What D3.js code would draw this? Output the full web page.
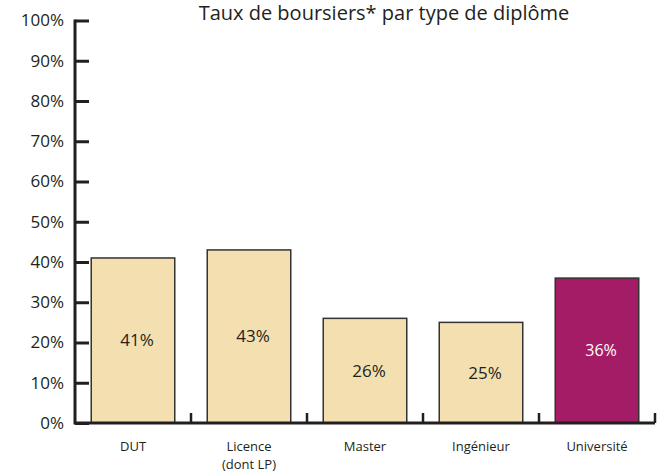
<!DOCTYPE html>
<html>
<head>
<meta charset="utf-8">
<script src="https://cdn.jsdelivr.net/npm/d3@7"></script>
<style>
  body { margin: 0; background: #fff; }
  text { font-family: "Open Sans", sans-serif; fill: #231f20; }
</style>
</head>
<body>
<div id="chart"></div>
<script>
let categories = ["DUT", "Licence", "Master", "Ingénieur", "Université"];
let subLabels = ["", "(dont LP)", "", "", ""];
let values = [41, 43, 26, 25, 36];
let yTicks = [0, 10, 20, 30, 40, 50, 60, 70, 80, 90, 100];
let title = "Taux de boursiers* par type de diplôme";

let width = 664, height = 473;
let x0 = 75, x1 = 655, yBottom = 423, yTop = 20.5;

let svg = d3.select("#chart").append("svg")
    .attr("width", width)
    .attr("height", height);

let xScale = d3.scaleBand()
    .domain(categories)
    .range([x0, x1])
    .paddingInner(0.28)
    .paddingOuter(0.14);

let yScale = d3.scaleLinear()
    .domain([0, 100])
    .range([yBottom, yTop]);

// bars
svg.selectAll(".bar")
    .data(values)
    .enter().append("rect")
    .attr("class", "bar")
    .attr("x", (d, i) => xScale(categories[i]))
    .attr("y", d => yScale(d))
    .attr("width", xScale.bandwidth())
    .attr("height", d => yBottom - yScale(d))
    .attr("fill", (d, i) => i == 4 ? "#a51c66" : "#f3dfb0")
    .attr("stroke", "#333")
    .attr("stroke-width", 1.5);

// value labels
svg.selectAll(".val")
    .data(values)
    .enter().append("text")
    .attr("class", "val")
    .attr("x", (d, i) => xScale(categories[i]) + xScale.bandwidth() / 2 + 4)
    .attr("y", d => (yScale(d) + yBottom) / 2)
    .attr("dy", "0.35em")
    .attr("text-anchor", "middle")
    .style("font-size", (d, i) => i == 4 ? "16px" : "17px")
    .style("fill", (d, i) => i == 4 ? "#fff" : "#231f20")
    .text(d => d + "%");

// y axis
let yAxis = d3.axisLeft(yScale)
    .tickValues(yTicks)
    .tickSize(-14)
    .tickPadding(11)
    .tickFormat(d => d + "%");

let yg = svg.append("g")
    .attr("transform", "translate(" + x0 + ",0)")
    .call(yAxis);
yg.select(".domain").remove();
yg.selectAll("line").attr("stroke", "#231f20").attr("stroke-width", 3);
yg.selectAll("text").style("font-size", "17px").style("fill", "#231f20");

svg.append("line")
    .attr("x1", x0).attr("x2", x0)
    .attr("y1", yTop - 1).attr("y2", yBottom + 1.5)
    .attr("stroke", "#231f20")
    .attr("stroke-width", 3);

// x axis line + boundary ticks
svg.append("line")
    .attr("x1", x0).attr("x2", x1)
    .attr("y1", yBottom).attr("y2", yBottom)
    .attr("stroke", "#231f20")
    .attr("stroke-width", 3);

svg.selectAll(".xtick")
    .data(categories)
    .enter().append("line")
    .attr("class", "xtick")
    .attr("x1", (d, i) => x0 + (i + 1) * xScale.step())
    .attr("x2", (d, i) => x0 + (i + 1) * xScale.step())
    .attr("y1", yBottom)
    .attr("y2", yBottom - 10)
    .attr("stroke", "#231f20")
    .attr("stroke-width", 2.5);

// category labels
let xl = svg.selectAll(".xlab")
    .data(categories)
    .enter().append("text")
    .attr("class", "xlab")
    .attr("text-anchor", "middle")
    .style("font-size", "13px")
    .attr("transform", d => "translate(" + (xScale(d) + xScale.bandwidth() / 2) + "," + (yBottom + 28) + ")");
xl.append("tspan").attr("x", 0).text(d => d);
xl.append("tspan").attr("x", 0).attr("dy", 18).text((d, i) => subLabels[i]);

// title
svg.append("text")
    .attr("x", 384)
    .attr("y", 20)
    .attr("text-anchor", "middle")
    .style("font-size", "20px")
    .text(title);
</script>
</body>
</html>
